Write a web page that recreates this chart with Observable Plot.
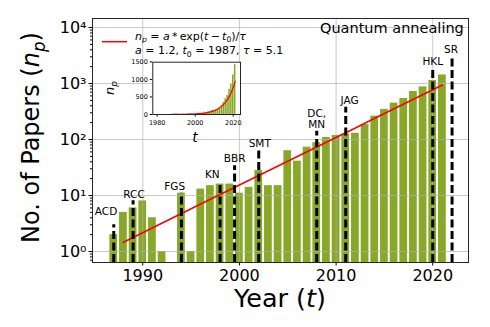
<!DOCTYPE html>
<html><head><meta charset="utf-8">
<script src="https://cdn.jsdelivr.net/npm/d3@7"></script>
<script src="https://cdn.jsdelivr.net/npm/@observablehq/plot@0.6"></script>
<style>
body{margin:0;background:white;}
#wrap{position:relative;width:490px;height:327px;font-family:"DejaVu Sans";}
#inset{position:absolute;left:95px;top:55px;}
</style></head><body><div id="wrap"><div id="main"></div><div id="inset"></div></div>
<script>
// ---- data ----
const years = [1987,1988,1989,1990,1991,1992,1994,1995,1996,1997,1998,1999,2000,2001,2002,2003,2004,2005,2006,2007,2008,2009,2010,2011,2012,2013,2014,2015,2016,2017,2018,2019,2020,2021];
const papers = [2,5,6,8,4,1,11,1,13,15,16,16,11,14,28,15,15,63,41,73,88,109,118,125,129,185,261,344,446,540,720,870,1130,1420];
const fitYears = [1988,1995,2000,2005,2008,2010,2012,2014,2015,2016,2017,2018,2019,2020,2021];
const fitValues = [1.46,5.8,15.4,41,73.6,109,161,239,291,354,430,524,637,775,942];
const eventNames = ["ACD","RCC","FGS","KN","BBR","SMT","DC,\nMN","JAG","HKL","SR"];
const eventYears = [1987,1989,1994,1998,1999.5,2002,2008,2011,2020,2022];
const eventTops = [3.0,8.1,11,17,34,65,141,377,1830,3160];
const labelYears = [1986.2,1989.1,1993.3,1997.2,1999.5,2002.1,2008,2011.4,2020,2021.9];
const labelValues = [5.2,10.3,14.5,23.7,46,86,230,497,2470,4000];
const xTicks = [1990,2000,2010,2020];
const yTicks = [1,10,100,1000,10000];
const yTickLabels = ["10⁰","10¹","10²","10³","10⁴"];
const yMinorTicks = [0.7,0.8,0.9,2,3,4,5,6,7,8,9,20,30,40,50,60,70,80,90,200,300,400,500,600,700,800,900,2000,3000,4000,5000,6000,7000,8000,9000];
const insetXTicks = [1980,2000,2020];
const insetYTicks = [0,500,1000,1500];

// ---- tables ----
const bars = years.map((y,i)=>({year:y, n:papers[i]}));
const fit = fitYears.map((y,i)=>({year:y, v:fitValues[i]}));
const events = eventNames.map((name,i)=>({name, x:eventYears[i], top:eventTops[i], lx:labelYears[i], ly:labelValues[i]}));

const GREEN = "#87a828";
const yLow = 0.636;
const TS = "\u2009";

function richText(parts, {x, y, size, anchor="start", rotate=0}) {
  return () => {
    const t = d3.create("svg:text")
      .attr("transform", `translate(${x},${y}) rotate(${rotate})`)
      .attr("text-anchor", anchor)
      .attr("font-size", size)
      .attr("font-family", "DejaVu Sans")
      .attr("fill", "black");
    let shift = 0;
    for (const p of parts) {
      const s = t.append("tspan").text(p.t);
      if (p.i) s.attr("font-style", "italic");
      const target = p.sub ? size*0.25 : 0;
      if (target !== shift) { s.attr("dy", target - shift); shift = target; }
      if (p.sub) s.attr("font-size", size*0.7);
    }
    return t.node();
  };
}

const legendMark = () => {
  const g = d3.create("svg:g");
  g.append("line").attr("x1",102).attr("x2",127).attr("y1",41.7).attr("y2",41.7)
    .attr("stroke","red").attr("stroke-width",1.5);
  g.append(richText([
    {t:"n",i:1},{t:"p",i:1,sub:1},{t:" = "},{t:"a",i:1},{t:TS+"*"+TS+"exp("},{t:"t",i:1},{t:TS+"−"+TS},{t:"t",i:1},{t:"0",sub:1},{t:")/"},{t:"τ",i:1}
  ], {x:135, y:39.5, size:11}));
  g.append(richText([
    {t:"a",i:1},{t:" = 1.2, "},{t:"t",i:1},{t:"0",sub:1},{t:" = 1987, "},{t:"τ",i:1},{t:" = 5.1"}
  ], {x:135, y:54, size:11}));
  return g.node();
};

const mainPlot = Plot.plot({
  width: 490, height: 327,
  marginLeft: 92, marginRight: 22, marginTop: 18, marginBottom: 65,
  x: {domain: [1984.8, 2023.7]},
  y: {type: "log", domain: [yLow, 14490]},
  style: {fontFamily: "DejaVu Sans", background: "white", overflow: "visible", color: "black"},
  marks: [
    Plot.rect(bars, {x1: d => d.year - 0.4, x2: d => d.year + 0.4, y1: () => yLow, y2: "n", fill: GREEN}),
    Plot.gridX(xTicks, {stroke: "#b0b0b0", strokeOpacity: 0.75, strokeWidth: 0.9}),
    Plot.gridY(yTicks, {stroke: "#b0b0b0", strokeOpacity: 0.75, strokeWidth: 0.9}),
    Plot.line(fit, {x: "year", y: "v", stroke: "red", strokeWidth: 1.6}),
    Plot.ruleX(events, {x: "x", y1: () => yLow, y2: "top", stroke: "black", strokeWidth: 3, strokeDasharray: "8,3.5"}),
    Plot.text(events, {x: "lx", y: "ly", text: "name", fontSize: 10.5, lineHeight: 1.0, fill: "black"}),
    Plot.axisX(xTicks, {tickSize: 3.5, tickPadding: 3.5, fontSize: 16, tickFormat: d => String(d), label: null}),
    Plot.axisY(yTicks, {tickSize: 3.5, tickPadding: 2.5, fontSize: 16, tickFormat: d => yTickLabels[yTicks.indexOf(d)], label: null}),
    Plot.axisY(yMinorTicks, {tickSize: 2, tickFormat: () => "", label: null}),
    Plot.frame({stroke: "#262626", strokeWidth: 1}),
    Plot.text(["Quantum annealing"], {frameAnchor: "top-right", dx: -4.7, dy: 4.5, fontSize: 14.5, textAnchor: "end", lineAnchor: "top", fill: "black"}),
    legendMark,
    richText([{t:"Year ("},{t:"t",i:1},{t:")"}], {x:280, y:307, size:25.5, anchor:"middle"}),
    richText([{t:"No. of Papers ("},{t:"n",i:1},{t:"p",i:1,sub:1},{t:")"}], {x:38.5, y:137.5, size:24, anchor:"middle", rotate:-90})
  ]
});
document.getElementById("main").append(mainPlot);

const insetPlot = Plot.plot({
  width: 150, height: 90,
  marginLeft: 57.3, marginRight: 5, marginTop: 6.7, marginBottom: 31,
  x: {domain: [1977.7, 2023.8]},
  y: {domain: [0, 1491]},
  style: {fontFamily: "DejaVu Sans", background: "transparent", overflow: "visible", color: "black"},
  marks: [
    Plot.frame({fill: "white"}),
    Plot.rect(bars, {x1: d => d.year - 0.4, x2: d => d.year + 0.4, y1: 0, y2: "n", fill: GREEN}),
    Plot.line(fit, {x: "year", y: "v", stroke: "red", strokeWidth: 1.2}),
    Plot.axisX(insetXTicks, {tickSize: 2.5, tickPadding: 3.5, fontSize: 6.5, tickFormat: d => String(d), label: null}),
    Plot.axisY(insetYTicks, {tickSize: 2.5, tickPadding: 2.5, fontSize: 6.5, tickFormat: d => String(d), label: null}),
    Plot.frame({stroke: "#262626", strokeWidth: 1}),
    richText([{t:"n",i:1},{t:"p",i:1,sub:1}], {x:19, y:33, size:13, anchor:"middle", rotate:-90}),
    richText([{t:"t",i:1}], {x:100, y:87, size:14, anchor:"middle"})
  ]
});
document.getElementById("inset").append(insetPlot);
</script></body></html>
